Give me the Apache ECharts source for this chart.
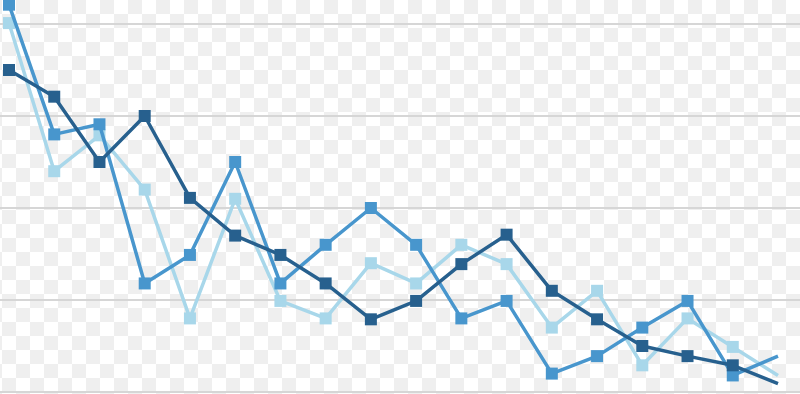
<!DOCTYPE html>
<html>
<head>
<meta charset="utf-8">
<script src="https://cdn.jsdelivr.net/npm/echarts@6/dist/echarts.min.js"></script>
<style>
  html, body { margin: 0; padding: 0; }
  #chart {
    width: 800px; height: 394px;
    background: repeating-conic-gradient(#efefef 0 25%, #ffffff 0 50%) 2px 0 / 28px 28px;
  }
</style>
</head>
<body>
<div id="chart"></div>
<script>
const categories = ['1','2','3','4','5','6','7','8','9','10','11','12','13','14','15','16','17','18'];
const darkValues   = [3.50, 3.21, 2.50, 3.00, 2.11, 1.70, 1.49, 1.18, 0.79, 0.99, 1.39, 1.71, 1.10, 0.79, 0.50, 0.39, 0.29, 0.09];
const mediumValues = [4.21, 2.80, 2.91, 1.18, 1.49, 2.50, 1.18, 1.60, 2.00, 1.60, 0.80, 0.99, 0.20, 0.39, 0.70, 0.99, 0.18, 0.39];
const lightValues  = [4.01, 2.40, 2.79, 2.20, 0.80, 2.10, 0.99, 0.80, 1.40, 1.18, 1.60, 1.39, 0.70, 1.10, 0.29, 0.80, 0.49, 0.18];

function withLastUnmarked(arr) {
  return arr.map((v, i) => i === arr.length - 1 ? { value: v, symbol: 'none' } : v);
}

function makeSeries(name, data, color, z) {
  return {
    name, type: 'line', data: withLastUnmarked(data), z,
    xAxisIndex: 1, yAxisIndex: 1,
    clip: false,
    symbol: 'rect', symbolSize: 12,
    lineStyle: { color, width: 3.5 },
    itemStyle: { color },
    emphasis: { disabled: true },
    animation: false
  };
}

const hidden = { axisLine: { show: false }, axisTick: { show: false }, axisLabel: { show: false } };

const chart = echarts.init(document.getElementById('chart'), null, { renderer: 'canvas' });
chart.setOption({
  backgroundColor: 'transparent',
  grid: [
    { left: 0, right: 0, top: 24, bottom: 2, containLabel: false },
    { left: 9, right: 22, top: 24, bottom: 2, containLabel: false }
  ],
  xAxis: [
    Object.assign({ type: 'value', gridIndex: 0, min: 0, max: 1, splitLine: { show: false } }, hidden),
    Object.assign({ type: 'category', gridIndex: 1, data: categories, boundaryGap: false, splitLine: { show: false } }, hidden)
  ],
  yAxis: [
    Object.assign({ type: 'value', gridIndex: 0, min: 0, max: 4, interval: 1,
      splitLine: { show: true, lineStyle: { color: '#d6d6d6', width: 2 } } }, hidden),
    Object.assign({ type: 'value', gridIndex: 1, min: 0, max: 4, interval: 1, splitLine: { show: false } }, hidden)
  ],
  series: [
    makeSeries('light', lightValues, '#a8d7ea', 2),
    makeSeries('medium', mediumValues, '#4896cd', 3),
    makeSeries('dark', darkValues, '#27608e', 4)
  ]
});
</script>
</body>
</html>
